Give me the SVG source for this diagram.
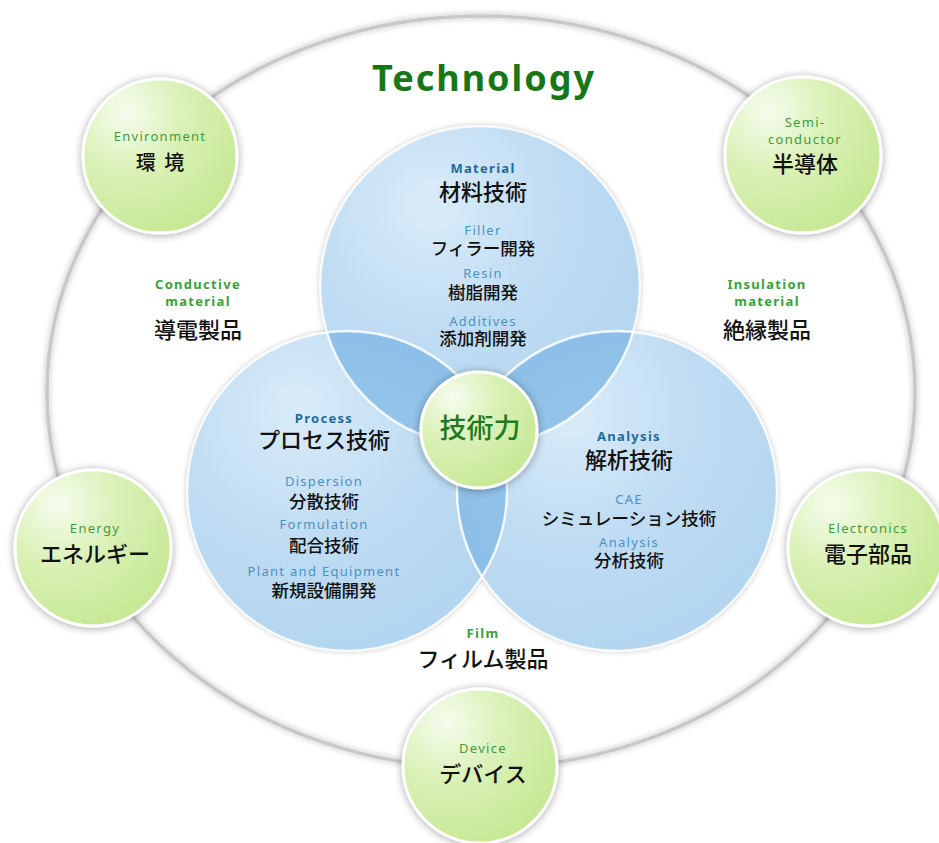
<svg xmlns="http://www.w3.org/2000/svg" width="939" height="843" viewBox="0 0 939 843">
<style>
.en{font-family:"Noto Sans","Open Sans",sans-serif;text-anchor:middle;letter-spacing:1.3px;font-size:13px}
.g{fill:#3d9d3d}
.gb{fill:#3aa03a;font-weight:bold}
.bm{fill:#1d6b9c;font-weight:bold}
.bs{fill:#4b91c2}
.jp{font-family:"Noto Sans CJK JP","Noto Sans",sans-serif;text-anchor:middle;fill:#111;font-weight:500}
.j22{font-size:22px}
.j18{font-size:17.5px}
.sat{fill:url(#greenG);stroke:#fff;stroke-width:3;filter:url(#sh)}
.blue{fill:url(#blueG)}
.lens{fill:url(#lensG)}
.edge{fill:none;stroke:#fff;stroke-width:2.5;stroke-opacity:.85}
</style>
<defs>
<filter id="sh" x="-20%" y="-20%" width="140%" height="140%">
<feGaussianBlur in="SourceAlpha" stdDeviation="4"/>
<feOffset dx="0" dy="1" result="b"/>
<feComponentTransfer><feFuncA type="linear" slope="0.35"/></feComponentTransfer>
<feMerge><feMergeNode/><feMergeNode in="SourceGraphic"/></feMerge>
</filter>
<filter id="shr" x="-10%" y="-10%" width="120%" height="120%">
<feGaussianBlur in="SourceAlpha" stdDeviation="3"/>
<feComponentTransfer><feFuncA type="linear" slope="0.3"/></feComponentTransfer>
<feMerge><feMergeNode/><feMergeNode in="SourceGraphic"/></feMerge>
</filter>
<radialGradient id="greenG" cx="28%" cy="22%" r="85%">
<stop offset="0" stop-color="#f6fcee"/>
<stop offset="0.45" stop-color="#daf1b6"/>
<stop offset="1" stop-color="#c6e894"/>
</radialGradient>
<radialGradient id="blueG" cx="35%" cy="25%" r="80%">
<stop offset="0" stop-color="#daecf9"/>
<stop offset="0.5" stop-color="#bfdcf3"/>
<stop offset="1" stop-color="#b3d5ef"/>
</radialGradient>
<radialGradient id="lensG" cx="50%" cy="50%" r="70%">
<stop offset="0" stop-color="#9cc9ec"/>
<stop offset="1" stop-color="#86bbe6"/>
</radialGradient>
<clipPath id="cM"><circle cx="480" cy="286" r="160"/></clipPath>
<clipPath id="cP"><circle cx="347" cy="491" r="160"/></clipPath>
</defs>
<rect width="939" height="843" fill="#fff"/>
<g id="ring">
<ellipse cx="481" cy="392" rx="434" ry="376" fill="none" stroke="#c8c8c8" stroke-width="3.5" filter="url(#shr)"/>
</g>
<text x="484" y="91" font-family="'Noto Sans','Open Sans',sans-serif" font-size="36" font-weight="bold" fill="#177717" text-anchor="middle" letter-spacing="2">Technology</text>

<g id="blue-circles" filter="url(#shr)">
<circle class="blue" cx="480" cy="286" r="160"/>
<circle class="blue" cx="347" cy="491" r="160"/>
<circle class="blue" cx="617" cy="491" r="160"/>
</g>
<g id="overlaps">
<circle class="lens" cx="347" cy="491" r="160" clip-path="url(#cM)"/>
<circle class="lens" cx="617" cy="491" r="160" clip-path="url(#cM)"/>
<circle class="lens" cx="617" cy="491" r="160" clip-path="url(#cP)"/>
<circle class="edge" cx="480" cy="286" r="160"/>
<circle class="edge" cx="347" cy="491" r="160"/>
<circle class="edge" cx="617" cy="491" r="160"/>
</g>

<g id="material">
<text class="en bm" x="483" y="173">Material</text>
<text class="jp j22" x="483" y="200">材料技術</text>
<text class="en bs" x="483" y="235">Filler</text>
<text class="jp j18" x="483" y="255">フィラー開発</text>
<text class="en bs" x="483" y="278">Resin</text>
<text class="jp j18" x="483" y="299">樹脂開発</text>
<text class="en bs" x="483" y="326">Additives</text>
<text class="jp j18" x="483" y="345">添加剤開発</text>
</g>
<g id="process">
<text class="en bm" x="324" y="423">Process</text>
<text class="jp j22" x="324" y="448">プロセス技術</text>
<text class="en bs" x="324" y="486">Dispersion</text>
<text class="jp j18" x="324" y="508">分散技術</text>
<text class="en bs" x="324" y="529">Formulation</text>
<text class="jp j18" x="324" y="552">配合技術</text>
<text class="en bs" x="324" y="576">Plant and Equipment</text>
<text class="jp j18" x="324" y="597">新規設備開発</text>
</g>
<g id="analysis">
<text class="en bm" x="629" y="441">Analysis</text>
<text class="jp j22" x="629" y="468">解析技術</text>
<text class="en bs" x="629" y="504">CAE</text>
<text class="jp j18" x="629" y="525">シミュレーション技術</text>
<text class="en bs" x="629" y="547">Analysis</text>
<text class="jp j18" x="629" y="567">分析技術</text>
</g>
<g id="core">
<circle class="sat" cx="479" cy="430" r="58"/>
<text class="jp" x="480" y="438" font-size="27" style="fill:#1f7a1f">技術力</text>
</g>

<g id="environment">
<circle class="sat" cx="160" cy="156" r="77"/>
<text class="en g" x="160" y="141">Environment</text>
<text class="jp" x="160" y="170" font-size="20" word-spacing="4">環 境</text>
</g>
<g id="semiconductor">
<circle class="sat" cx="803" cy="155" r="78"/>
<text class="en g" x="805" y="127">Semi-</text>
<text class="en g" x="805" y="144">conductor</text>
<text class="jp j22" x="805" y="172">半導体</text>
</g>
<g id="energy">
<circle class="sat" cx="93" cy="548" r="78"/>
<text class="en g" x="95" y="533">Energy</text>
<text class="jp j22" x="95" y="562">エネルギー</text>
</g>
<g id="electronics">
<circle class="sat" cx="866" cy="548" r="78"/>
<text class="en g" x="868" y="533">Electronics</text>
<text class="jp j22" x="868" y="562">電子部品</text>
</g>
<g id="device">
<circle class="sat" cx="480" cy="766" r="77"/>
<text class="en g" x="483" y="753">Device</text>
<text class="jp j22" x="483" y="782">デバイス</text>
</g>
<g id="conductive">
<text class="en gb" x="198" y="289">Conductive</text>
<text class="en gb" x="198" y="306">material</text>
<text class="jp j22" x="198" y="338">導電製品</text>
</g>
<g id="insulation">
<text class="en gb" x="767" y="289">Insulation</text>
<text class="en gb" x="767" y="306">material</text>
<text class="jp j22" x="767" y="338">絶縁製品</text>
</g>
<g id="film">
<text class="en gb" x="483" y="638">Film</text>
<text class="jp j22" x="483" y="667">フィルム製品</text>
</g>
</svg>
